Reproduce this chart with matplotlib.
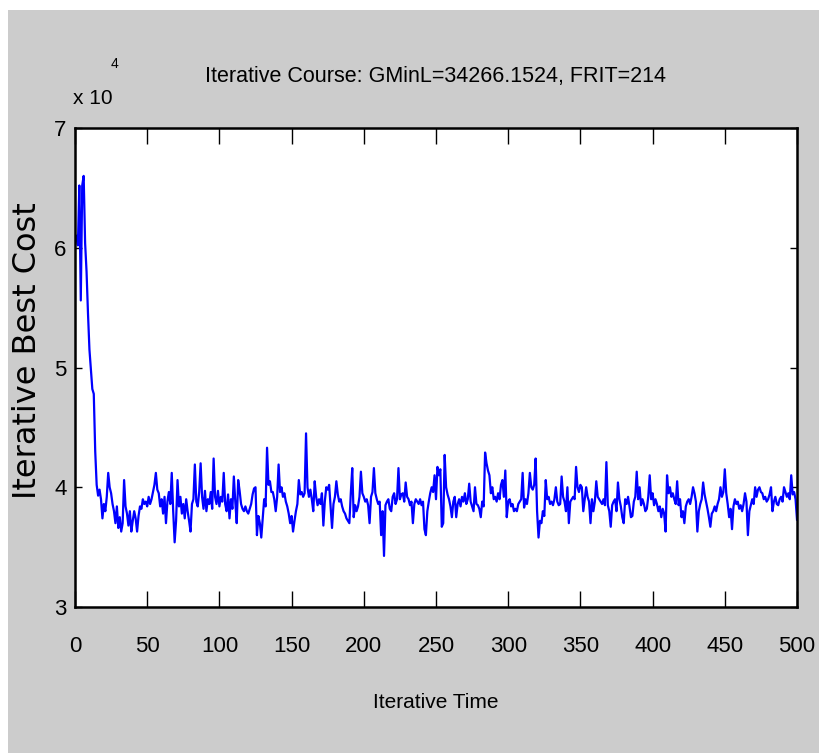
import matplotlib
matplotlib.use("Agg")
import matplotlib.pyplot as plt
import numpy as np
from matplotlib.patches import Rectangle
from matplotlib.font_manager import FontProperties

plt.rcParams['font.family'] = ['Liberation Sans', 'DejaVu Sans']

# best cost per iteration, in units of 1e4
best_cost_e4 = [
    6.10, 6.02, 6.52, 5.56, 6.52, 6.60, 6.04, 5.80, 5.45, 5.15,   # 1-10
    4.98, 4.82, 4.78, 4.30, 4.02, 3.93, 3.98, 3.90, 3.74, 3.86,
    3.80, 3.92, 4.12, 4.00, 3.95, 3.86, 3.80, 3.70, 3.84, 3.66,
    3.75, 3.63, 3.70, 4.06, 3.84, 3.78, 3.68, 3.80, 3.63, 3.72,
    3.80, 3.74, 3.63, 3.76, 3.84, 3.82, 3.90, 3.86, 3.88, 3.84,
    3.92, 3.86, 3.90, 3.96, 4.02, 4.12, 3.98, 3.95, 3.84, 3.90,   # 51-60
    3.78, 3.92, 3.70, 3.88, 3.96, 3.86, 4.12, 3.80, 3.54, 3.72,
    4.06, 3.84, 3.92, 3.78, 3.86, 3.74, 3.90, 3.80, 3.72, 3.63,
    3.86, 3.90, 4.19, 3.88, 3.84, 3.96, 4.20, 3.92, 3.82, 3.97,
    3.80, 3.90, 3.86, 3.96, 3.82, 4.24, 3.92, 3.86, 3.97, 3.84,
    3.92, 3.88, 4.12, 3.86, 3.80, 3.94, 3.74, 3.90, 3.82, 4.09,   # 101-110
    3.88, 3.70, 4.06, 3.97, 3.86, 3.82, 3.80, 3.84, 3.80, 3.78,
    3.82, 3.86, 3.94, 3.99, 4.00, 3.60, 3.76, 3.70, 3.58, 3.74,
    3.90, 3.84, 4.33, 4.02, 4.05, 3.96, 3.96, 3.90, 3.80, 3.92,
    4.19, 3.96, 4.00, 3.92, 3.95, 3.88, 3.84, 3.78, 3.70, 3.76,
    3.63, 3.72, 3.80, 3.86, 4.06, 3.94, 3.96, 3.92, 3.95, 4.45,   # 151-160
    4.00, 3.92, 3.98, 3.90, 3.80, 4.05, 3.92, 3.85, 3.90, 3.86,
    3.95, 3.68, 3.88, 4.00, 3.98, 4.02, 3.84, 3.66, 3.86, 3.92,
    4.05, 3.94, 3.88, 3.90, 3.84, 3.80, 3.78, 3.74, 3.72, 3.70,
    3.95, 4.16, 3.75, 3.85, 3.80, 3.84, 3.92, 4.13, 3.95, 3.92,
    3.88, 3.90, 3.85, 3.70, 3.92, 3.96, 4.16, 3.95, 3.90, 3.86,   # 201-210
    3.88, 3.60, 3.80, 3.4266, 3.85, 3.88, 3.90, 3.82, 3.80, 3.92,
    3.95, 3.86, 3.90, 4.16, 3.90, 3.94, 3.95, 3.88, 4.04, 3.92,
    3.90, 3.85, 3.88, 3.70, 3.86, 3.90, 3.88, 3.86, 3.90, 3.85,
    3.88, 3.65, 3.60, 3.80, 3.88, 3.95, 4.00, 3.96, 4.10, 3.90,
    4.17, 4.10, 4.15, 3.67, 3.70, 4.27, 4.00, 3.94, 3.90, 3.84,   # 251-260
    3.75, 3.88, 3.92, 3.75, 3.86, 3.90, 3.84, 3.92, 3.88, 3.95,
    3.86, 3.90, 4.03, 3.88, 3.84, 3.80, 4.00, 3.86, 3.85, 3.82,
    3.75, 3.88, 3.84, 4.29, 4.20, 4.14, 4.10, 3.95, 4.00, 3.90,
    3.92, 3.88, 3.95, 3.90, 4.02, 4.06, 3.92, 4.14, 3.75, 3.88,
    3.90, 3.84, 3.86, 3.80, 3.82, 3.80, 3.86, 3.88, 3.90, 4.12,   # 301-310
    3.83, 3.90, 3.86, 3.95, 4.12, 4.00, 3.98, 4.02, 4.24, 3.80,
    3.58, 3.72, 3.70, 3.80, 3.76, 4.06, 3.90, 3.92, 3.86, 3.88,
    3.85, 3.90, 4.00, 3.88, 3.85, 3.86, 4.09, 3.92, 3.88, 3.80,
    4.00, 3.70, 3.88, 3.90, 3.92, 3.90, 4.17, 4.00, 3.96, 4.02,
    4.00, 3.80, 3.90, 4.00, 3.92, 3.88, 3.70, 3.90, 3.80, 3.88,   # 351-360
    4.05, 3.92, 3.90, 3.88, 3.86, 3.90, 3.85, 4.21, 3.85, 3.80,
    3.67, 3.85, 3.88, 3.90, 3.80, 4.04, 3.90, 3.84, 3.75, 3.70,
    3.90, 3.86, 3.92, 3.84, 3.75, 3.76, 3.88, 3.92, 4.13, 3.90,
    4.00, 3.85, 3.90, 3.86, 3.80, 3.82, 3.92, 4.10, 3.90, 3.95,
    3.85, 3.90, 3.86, 3.80, 3.84, 3.75, 3.82, 3.78, 3.63, 4.10,   # 401-410
    3.95, 4.00, 3.92, 3.95, 3.90, 3.86, 4.05, 3.85, 3.90, 3.75,
    3.80, 3.70, 3.84, 3.88, 3.90, 3.86, 3.92, 4.00, 3.95, 3.88,
    3.63, 3.80, 3.86, 3.90, 4.04, 3.94, 3.88, 3.82, 3.75, 3.67,
    3.78, 3.80, 3.84, 3.80, 3.86, 3.90, 4.00, 3.92, 3.96, 4.15,
    3.95, 3.86, 3.75, 3.82, 3.65, 3.84, 3.90, 3.86, 3.88, 3.82,   # 451-460
    3.85, 3.80, 3.86, 3.95, 3.88, 3.60, 3.80, 3.85, 3.90, 3.86,
    4.00, 3.92, 3.98, 4.00, 3.96, 3.95, 3.90, 3.92, 3.88, 3.90,
    3.94, 4.00, 3.80, 3.88, 3.92, 3.86, 3.85, 3.90, 3.92, 3.88,
    4.00, 3.96, 3.92, 3.95, 3.90, 4.10, 3.94, 3.96, 3.90, 3.73,
]
iterations = np.arange(1, len(best_cost_e4) + 1)

x_ticks = list(range(0, 501, 50))
y_ticks = [3, 4, 5, 6, 7]
title = "Iterative Course: GMinL=34266.1524, FRIT=214"

W, H = 820, 753
fig = plt.figure(figsize=(W / 100, H / 100), dpi=100, facecolor='white')
# grey MATLAB-like figure window
fig.patches.append(Rectangle((8 / W, 0), 1, 1 - 10 / H, transform=fig.transFigure,
                             facecolor='#cccccc', edgecolor='none', zorder=-10))

ax = fig.add_axes([75 / W, 1 - 607 / H, 722 / W, 479 / H])
ax.set_facecolor('white')
ax.plot(iterations, best_cost_e4, color='#0000ff', lw=1.6)

ax.set_xlim(0, 500)
ax.set_ylim(3, 7)
ax.set_xticks(x_ticks)
ax.set_yticks(y_ticks)

for s in ax.spines.values():
    s.set_linewidth(1.8)
    s.set_color('black')

ax.tick_params(axis='both', direction='in', top=True, right=True,
               colors='black', width=1.0, labelsize=16)
ax.tick_params(axis='x', length=11.5, pad=21)
ax.tick_params(axis='y', length=5, pad=6)

ax.set_title(title, fontsize=15.5, pad=33)
ax.set_xlabel("Iterative Time", fontsize=15)
ax.xaxis.set_label_coords(0.5, -0.18)
ylab_font = FontProperties(family='DejaVu Sans', size=23)
ax.set_ylabel("Iterative Best Cost", fontproperties=ylab_font)
ax.yaxis.set_label_coords(-0.045, 0.535)

# exponent label, MATLAB style
fig.text(73 / W, 1 - 104 / H, "x 10", fontsize=15, ha='left', va='baseline')
fig.text(111 / W, 1 - 68 / H, "4", fontsize=10, ha='left', va='baseline')

fig.savefig("out.png", dpi=100, facecolor=fig.get_facecolor())
